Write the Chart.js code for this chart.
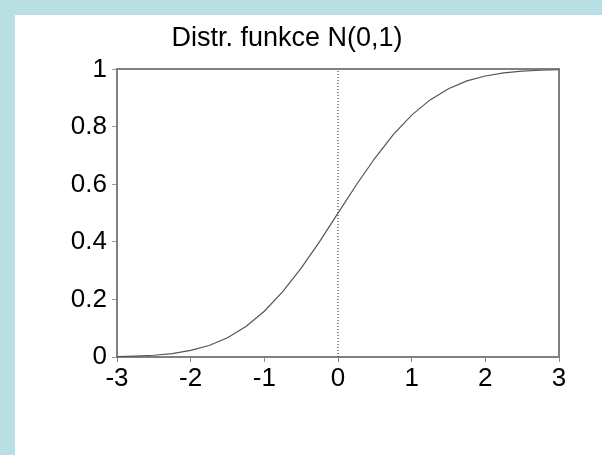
<!DOCTYPE html>
<html>
<head>
<meta charset="utf-8">
<script src="https://cdn.jsdelivr.net/npm/chart.js@4.4.1/dist/chart.umd.min.js"></script>
<style>
  html, body { margin: 0; padding: 0; background: #b8dfe3; }
  #wrap { position: absolute; left: 15px; top: 15px; width: 587px; height: 440px; background: #fff; }
  canvas { display: block; }
</style>
</head>
<body>
<div id="wrap"><canvas id="cdfChart" width="587" height="440"></canvas></div>
<script>
// x values and read-off values of the distribution function
const xs = [-3, -2.75, -2.5, -2.25, -2, -1.75, -1.5, -1.25, -1, -0.75, -0.5, -0.25, 0,
            0.25, 0.5, 0.75, 1, 1.25, 1.5, 1.75, 2, 2.25, 2.5, 2.75, 3];
const cdf = [0.001, 0.003, 0.006, 0.012, 0.023, 0.040, 0.067, 0.106, 0.159, 0.227, 0.309, 0.401, 0.5,
             0.599, 0.691, 0.773, 0.841, 0.894, 0.933, 0.960, 0.977, 0.988, 0.994, 0.997, 0.999];
// dotted marker at x = 0
const markX = [0, 0];
const markY = [0, 1];
const chartTitle = "Distr. funkce N(0,1)";

const fontFam = "'Liberation Sans', Arial, Helvetica, sans-serif";

const ctx = document.getElementById("cdfChart").getContext("2d");
new Chart(ctx, {
  type: "line",
  data: {
    datasets: [
      {
        data: xs.map((x, i) => ({ x, y: cdf[i] })),
        borderColor: "#555",
        borderWidth: 1.2,
        pointRadius: 0,
        tension: 0
      },
      {
        data: markX.map((x, i) => ({ x, y: markY[i] })),
        borderColor: "#222",
        borderWidth: 1,
        borderDash: [1, 2],
        pointRadius: 0
      }
    ]
  },
  options: {
    responsive: false,
    animation: false,
    layout: { padding: { left: 0, right: 43, top: 0, bottom: 0 } },
    plugins: {
      legend: { display: false },
      tooltip: { enabled: false },
      title: {
        display: true,
        text: chartTitle,
        color: "#000",
        font: { family: fontFam, size: 27, weight: "normal" },
        padding: { top: 7, bottom: 15 }
      }
    },
    scales: {
      x: {
        type: "linear",
        min: -3, max: 3,
        afterFit: s => { s.height = 98; },
        ticks: { stepSize: 1, color: "#000", padding: 1, font: { family: fontFam, size: 26 } },
        grid: { display: true, drawOnChartArea: false, drawTicks: true, tickLength: 5, color: "#888" },
        border: { display: true, color: "#808080", width: 2 }
      },
      x2: {
        type: "linear", position: "top", min: -3, max: 3,
        afterFit: s => { s.height = 0; },
        ticks: { display: false },
        grid: { display: false },
        border: { display: true, color: "#808080", width: 2 }
      },
      y: {
        min: 0, max: 1,
        afterFit: s => { s.width = 102; },
        ticks: {
          stepSize: 0.1,
          color: "#000",
          padding: 5,
          font: { family: fontFam, size: 26 },
          callback: v => {
            const n = Math.round(v * 10);
            return n % 2 === 0 ? String(n / 10) : "";
          }
        },
        grid: { display: true, drawOnChartArea: false, drawTicks: true, tickLength: 5, color: "#999" },
        border: { display: true, color: "#808080", width: 2 }
      },
      y2: {
        position: "right", min: 0, max: 1,
        afterFit: s => { s.width = 0; },
        ticks: { display: false },
        grid: { display: false },
        border: { display: true, color: "#808080", width: 2 }
      }
    }
  }
});
</script>
</body>
</html>
